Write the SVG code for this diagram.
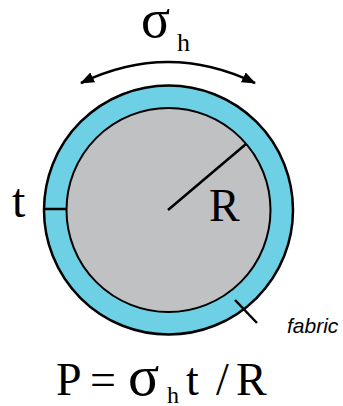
<svg xmlns="http://www.w3.org/2000/svg" width="343" height="406" viewBox="0 0 343 406">
<defs>
<style>
.serif{font-family:"Liberation Serif","Times New Roman",serif;fill:#000}
.ln{stroke:#000;stroke-width:2.5;fill:none;stroke-linecap:butt}
</style>
<marker id="ah" viewBox="0 0 14 11" refX="13" refY="5.5" markerWidth="14" markerHeight="11" markerUnits="userSpaceOnUse" orient="auto-start-reverse">
<path d="M0,0 L14,5.5 L0,11 Z" fill="#000"/>
</marker>
</defs>
<rect width="343" height="406" fill="#fff"/>
<g id="pipe">
<circle cx="168.5" cy="210" r="124.5" fill="#6dd0e4" stroke="#000" stroke-width="2.5"/>
<circle cx="168.5" cy="210" r="102" fill="#bfc1c2" stroke="#000" stroke-width="2"/>
</g>
<g id="connectors">
<path class="ln" d="M81,83 Q168,41 255,83" marker-start="url(#ah)" marker-end="url(#ah)"/>
<line class="ln" x1="45" y1="209" x2="67" y2="209"/>
<line class="ln" x1="168" y1="210" x2="246" y2="144"/>
<line class="ln" x1="235" y1="300" x2="257" y2="323"/>
</g>
<g id="labels">
<text class="serif" x="141" y="37" font-size="54">σ<tspan x="177" y="51" font-size="26">h</tspan></text>
<text class="serif" x="12" y="217" font-size="48">t</text>
<text class="serif" x="209" y="221" font-size="46">R</text>
<text x="287" y="333" font-family="Liberation Sans, Arial, sans-serif" font-style="italic" font-size="21" fill="#000">fabric</text>
</g>
<g id="equation">
<text class="serif" x="56" y="395" font-size="46">P<tspan x="90">=</tspan><tspan x="128" font-size="58">σ</tspan><tspan x="167" y="403" font-size="24">h</tspan><tspan x="186" y="395">t</tspan><tspan x="216">/</tspan><tspan x="236">R</tspan></text>
</g>
</svg>
